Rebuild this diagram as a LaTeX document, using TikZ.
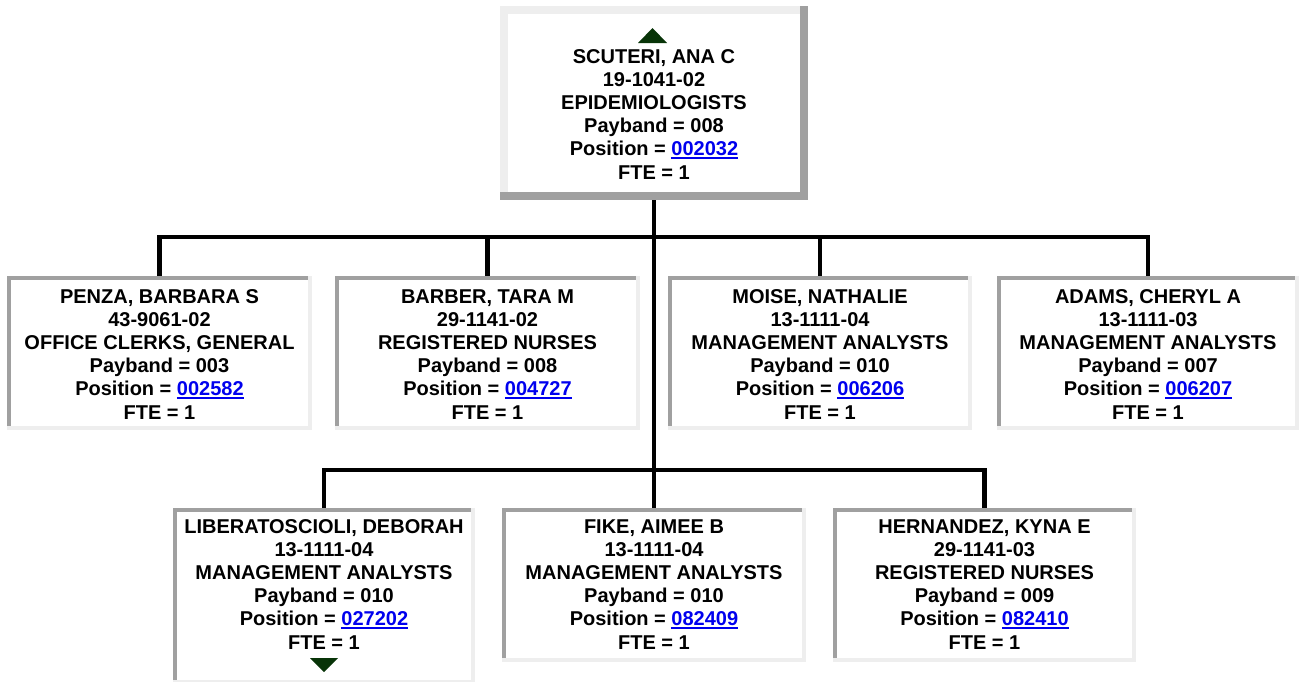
\documentclass[tikz,border=0pt]{standalone}
\usepackage{fontspec}
\setmainfont{Liberation Sans}
\usepackage{xcolor}

\definecolor{linkblue}{RGB}{0,0,238}
\definecolor{edgedark}{RGB}{160,160,160}
\definecolor{edgelite}{RGB}{238,238,238}
\definecolor{trigreen}{RGB}{8,52,8}

\newsavebox{\linkbox}
\newcommand{\poslink}[1]{\textcolor{linkblue}{\sbox{\linkbox}{#1}\rlap{\rule[-1.6pt]{\wd\linkbox}{0.9pt}}\usebox{\linkbox}}}

\tikzset{
  card/.style={rectangle, inner sep=0pt, align=center,
    font=\fontsize{10}{11.6}\selectfont\bfseries,
    text height=68pt, text depth=2pt},
  link/.style={line width=2.1pt, line join=miter},
  edge dark/.style={draw=edgedark, line width=2pt, line cap=rect},
  edge lite/.style={draw=edgelite, line width=2pt, line cap=rect},
  trifill/.style={fill=trigreen}
}

\begin{document}
\begin{tikzpicture}[x=0.5pt,y=-0.5pt]

\clip
(0,0)
rectangle
(1299,681);

% Chef
\node[card, minimum width=150pt, minimum height=93pt, text height=78pt]
(scuteri) at (654,103)
{SCUTERI, ANA C\\19-1041-02\\EPIDEMIOLOGISTS\\Payband = 008\\Position = \poslink{002032}\\FTE = 1};

% Niveau 2
\node[card, minimum width=150.5pt, minimum height=75pt]
(penza) at (159.5,353)
{PENZA, BARBARA S\\43-9061-02\\OFFICE CLERKS, GENERAL\\Payband = 003\\Position = \poslink{002582}\\FTE = 1};

\node[card, minimum width=150.5pt, minimum height=75pt]
(barber) at (487.5,353)
{BARBER, TARA M\\29-1141-02\\REGISTERED NURSES\\Payband = 008\\Position = \poslink{004727}\\FTE = 1};

\node[card, minimum width=150pt, minimum height=75pt]
(moise) at (820,353)
{MOISE, NATHALIE\\13-1111-04\\MANAGEMENT ANALYSTS\\Payband = 010\\Position = \poslink{006206}\\FTE = 1};

\node[card, minimum width=149pt, minimum height=75pt]
(adams) at (1148,353)
{ADAMS, CHERYL A\\13-1111-03\\MANAGEMENT ANALYSTS\\Payband = 007\\Position = \poslink{006207}\\FTE = 1};

% Niveau 3
\node[card, minimum width=149pt, minimum height=86pt, text height=55pt]
(liberatoscioli) at (324,596)
{LIBERATOSCIOLI, DEBORAH\\13-1111-04\\MANAGEMENT ANALYSTS\\Payband = 010\\Position = \poslink{027202}\\FTE = 1};

\node[card, minimum width=150pt, minimum height=75pt, text height=66pt]
(fike) at (654,585)
{FIKE, AIMEE B\\13-1111-04\\MANAGEMENT ANALYSTS\\Payband = 010\\Position = \poslink{082409}\\FTE = 1};

\node[card, minimum width=149.5pt, minimum height=75pt, text height=66pt]
(hernandez) at (984.5,585)
{HERNANDEZ, KYNA E\\29-1141-03\\REGISTERED NURSES\\Payband = 009\\Position = \poslink{082410}\\FTE = 1};

% Liaisons
\coordinate (busup) at (654,237);
\coordinate (busdown) at (654,470);

\draw[link]
(scuteri.south)
--
(fike.north);

\draw[link]
(penza.north)
|- (busup)
-| (adams.north);

\draw[link] (barber.north) -- (barber.north |- busup);
\draw[link] (moise.north) -- (moise.north |- busup);

\draw[link]
(liberatoscioli.north)
|- (busdown)
-| (hernandez.north);

% Bordures
\draw[edge lite, line width=4pt]
(scuteri.south west)
--
(scuteri.north west)
--
(scuteri.north east);
\draw[edge dark, line width=4pt]
(scuteri.north east)
--
(scuteri.south east)
--
(scuteri.south west);

\foreach \n in {penza,barber,moise,adams,liberatoscioli,fike,hernandez}{
  \draw[edge dark] (\n.south west) -- (\n.north west) -- (\n.north east);
  \draw[edge lite] (\n.north east) -- (\n.south east) -- (\n.south west);
}

% Fleches
\fill[trifill]
(638,43) -- (652.5,28) -- (667,43) -- cycle;

\fill[trifill]
(310,658) -- (338,658) -- (324,672) -- cycle;

\end{tikzpicture}
\end{document}
